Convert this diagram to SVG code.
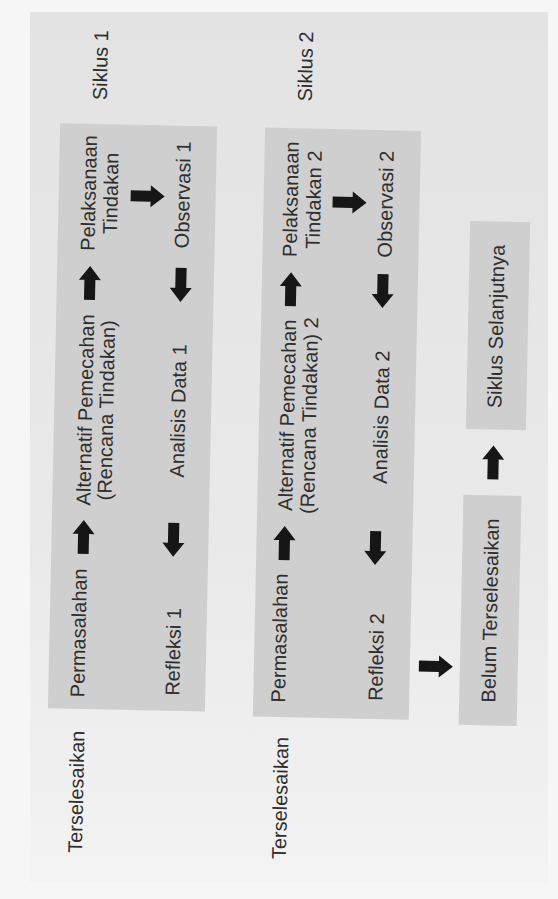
<svg xmlns="http://www.w3.org/2000/svg" xmlns:xlink="http://www.w3.org/1999/xlink" width="558" height="899" viewBox="0 0 558 899">
  <defs>
    <linearGradient id="page" x1="0" y1="0" x2="0" y2="1">
      <stop offset="0" stop-color="#e3e3e3"/>
      <stop offset="0.6" stop-color="#e9e9e9"/>
      <stop offset="1" stop-color="#f3f3f3"/>
    </linearGradient>
    <path id="arr" d="M0,-17 L11,-3 L5.5,-3 L5.5,17 L-5.5,17 L-5.5,-3 L-11,-3 Z"/>
    <style>
      .box { fill: #cfcfcf; }
      .lbl { font-family: "Liberation Sans", Arial, sans-serif; font-size: 20px; fill: #2e2e2e; text-anchor: middle; }
      .arrow { fill: #161616; }
    </style>
  </defs>
  <rect x="0" y="0" width="558" height="899" fill="#f6f6f6"/>
  <rect x="30" y="12" width="518" height="870" fill="url(#page)"/>
  <g id="diagram" transform="rotate(1.2 280 420)">
    <g id="siklus1">
      <rect class="box" x="54" y="128" width="157" height="585"/>
      <text class="lbl" transform="translate(100,69) rotate(-90)">Siklus 1</text>
    </g>
    <g id="siklus2">
      <rect class="box" x="259" y="128" width="156" height="589"/>
      <text class="lbl" transform="translate(305,66) rotate(-90)">Siklus 2</text>
    </g>
    <g id="pelaksanaan1"><text class="lbl" transform="translate(91,197) rotate(-90)"><tspan x="0" y="0">Pelaksanaan</tspan><tspan x="0" y="22">Tindakan</tspan></text></g>
    <g id="observasi1"><text class="lbl" transform="translate(185,197) rotate(-90)">Observasi 1</text></g>
    <g id="alternatif1"><text class="lbl" transform="translate(92,414) rotate(-90)"><tspan x="0" y="0">Alternatif Pemecahan</tspan><tspan x="0" y="21">(Rencana Tindakan)</tspan></text></g>
    <g id="analisis1"><text class="lbl" transform="translate(185,413) rotate(-90)">Analisis Data 1</text></g>
    <g id="permasalahan1"><text class="lbl" transform="translate(90,637) rotate(-90)">Permasalahan</text></g>
    <g id="refleksi1"><text class="lbl" transform="translate(185,654) rotate(-90)">Refleksi 1</text></g>
    <g id="terselesaikan1"><text class="lbl" transform="translate(91,796) rotate(-90)">Terselesaikan</text></g>

    <g id="pelaksanaan2"><text class="lbl" transform="translate(293,199) rotate(-90)"><tspan x="0" y="0">Pelaksanaan</tspan><tspan x="0" y="23">Tindakan 2</tspan></text></g>
    <g id="observasi2"><text class="lbl" transform="translate(388,202) rotate(-90)">Observasi 2</text></g>
    <g id="alternatif2"><text class="lbl" transform="translate(294,415) rotate(-90)"><tspan x="0" y="0">Alternatif Pemecahan</tspan><tspan x="0" y="22">(Rencana Tindakan) 2</tspan></text></g>
    <g id="analisis2"><text class="lbl" transform="translate(388,415) rotate(-90)">Analisis Data 2</text></g>
    <g id="permasalahan2"><text class="lbl" transform="translate(291,638) rotate(-90)">Permasalahan</text></g>
    <g id="refleksi2"><text class="lbl" transform="translate(388,655) rotate(-90)">Refleksi 2</text></g>
    <g id="terselesaikan2"><text class="lbl" transform="translate(295,798) rotate(-90)">Terselesaikan</text></g>

    <g id="siklus-selanjutnya">
      <rect class="box" x="466" y="217" width="60" height="208"/>
      <text class="lbl" transform="translate(501,322) rotate(-90)">Siklus Selanjutnya</text>
    </g>
    <g id="belum-terselesaikan">
      <rect class="box" x="465" y="491" width="58" height="230"/>
      <text class="lbl" transform="translate(501,606) rotate(-90)">Belum Terselesaikan</text>
    </g>

    <g id="connectors" class="arrow">
      <use xlink:href="#arr" transform="translate(87,287)"/>
      <use xlink:href="#arr" transform="translate(143,199) rotate(90)"/>
      <use xlink:href="#arr" transform="translate(178,287) rotate(180)"/>
      <use xlink:href="#arr" transform="translate(176,542) rotate(180)"/>
      <use xlink:href="#arr" transform="translate(86,541)"/>
      <use xlink:href="#arr" transform="translate(288,289)"/>
      <use xlink:href="#arr" transform="translate(345,201) rotate(90)"/>
      <use xlink:href="#arr" transform="translate(380,289) rotate(180)"/>
      <use xlink:href="#arr" transform="translate(287,543)"/>
      <use xlink:href="#arr" transform="translate(378,546) rotate(180)"/>
      <use xlink:href="#arr" transform="translate(441,663) rotate(90)"/>
      <use xlink:href="#arr" transform="translate(494,458)"/>
    </g>
  </g>
</svg>
